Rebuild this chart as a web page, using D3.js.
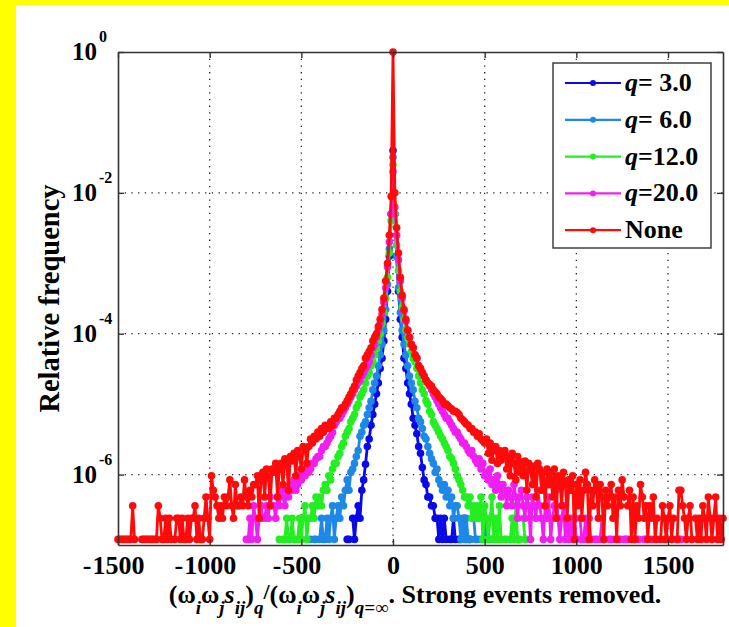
<!DOCTYPE html>
<html><head><meta charset="utf-8">
<script src="https://cdn.jsdelivr.net/npm/d3@7"></script>
<style>
body{margin:0;background:#fff;overflow:hidden}
svg{display:block}
text{font-family:"Liberation Serif","Times New Roman",serif;font-weight:bold;fill:#000}
</style>
</head><body>
<svg id="chart" width="729" height="627"></svg>
<script>
// ---------------- data ----------------
const binWidth = 10;
const xTicks = [-1500, -1000, -500, 0, 500, 1000, 1500];
const yTickExponents = [0, -2, -4, -6];
const legendLabels = ["q= 3.0", "q= 6.0", "q=12.0", "q=20.0", "None"];
const seriesColors = ["#0a0ae8", "#1e88e6", "#22ee22", "#f01ef0", "#ff0a0a"];

const q3Start = -250;
const q3Values = [1.2e-7,1.2e-7,null,2.4e-7,1.2e-7,2.4e-7,3.6e-7,2.4e-7,6e-7,8.4e-7,
 1.4e-6,2.5e-6,3.2e-6,5e-6,7.1e-6,1e-5,1.4e-5,2e-5,3.2e-5,4.5e-5,
 7.9e-5,1.6e-4,4e-4,1.26e-3,5e-3,4e-2,5e-3,1.26e-3,4e-4,1.6e-4,
 8.9e-5,4.5e-5,3.2e-5,2e-5,1.4e-5,1e-5,6.3e-6,5e-6,3.8e-6,2.5e-6,
 2e-6,1.26e-6,8.4e-7,7.2e-7,4.8e-7,4.8e-7,3.6e-7,3.6e-7,2.4e-7,2.4e-7,
 1.2e-7,2.4e-7,1.2e-7,2.4e-7,1.2e-7,null,1.2e-7,1.2e-7,2.4e-7,1.2e-7,
 null,1.2e-7,1.2e-7,null,2.4e-7,1.2e-7,null,1.2e-7];

const q6Start = -450;
const q6Values = [1.2e-7,null,1.2e-7,1.2e-7,null,1.2e-7,2.4e-7,1.2e-7,1.2e-7,2.4e-7,
 1.2e-7,2.4e-7,3.6e-7,1.2e-7,2.4e-7,3.6e-7,2.4e-7,4.8e-7,3.6e-7,6e-7,
 8.4e-7,6e-7,1.08e-6,1.2e-6,1.44e-6,1.8e-6,2.2e-6,3.5e-6,4e-6,5e-6,
 5.6e-6,7.1e-6,8.9e-6,1.1e-5,1.6e-5,2e-5,2.5e-5,3.5e-5,5e-5,7.1e-5,
 1.12e-4,2.2e-4,5e-4,1.6e-3,5e-3,3.2e-2,5e-3,1.26e-3,4.5e-4,2e-4,
 1.12e-4,7.1e-5,5e-5,3.5e-5,2.5e-5,2e-5,1.6e-5,1.1e-5,8.9e-6,6.3e-6,
 5.6e-6,4.5e-6,3.5e-6,3.2e-6,2.5e-6,2e-6,1.68e-6,1.44e-6,1.08e-6,1.2e-6,
 8.4e-7,7.2e-7,6e-7,7.2e-7,4.8e-7,6e-7,3.6e-7,4.8e-7,2.4e-7,3.6e-7,
 3.6e-7,2.4e-7,1.2e-7,2.4e-7,1.2e-7,2.4e-7,1.2e-7,1.2e-7,null,2.4e-7,
 1.2e-7,1.2e-7,null,1.2e-7,1.2e-7,2.4e-7,1.2e-7,null,1.2e-7,1.2e-7];

const q12Start = -620;
const q12Values = [1.2e-7,null,1.2e-7,1.2e-7,2.4e-7,1.2e-7,1.2e-7,2.4e-7,1.2e-7,null,
 1.2e-7,2.4e-7,1.2e-7,2.4e-7,3.6e-7,1.2e-7,2.4e-7,2.4e-7,3.6e-7,2.4e-7,
 4.8e-7,3.6e-7,4.8e-7,3.6e-7,6e-7,7.2e-7,6e-7,9.6e-7,8.4e-7,1.2e-6,
 1.44e-6,1.44e-6,1.8e-6,2e-6,2.5e-6,2.8e-6,3.5e-6,4e-6,4.5e-6,5.6e-6,
 6.3e-6,7.1e-6,8.9e-6,1e-5,1.26e-5,1.4e-5,1.6e-5,2e-5,2.5e-5,2.8e-5,
 3.5e-5,4e-5,5e-5,6.3e-5,7.9e-5,1e-4,1.4e-4,2e-4,3.2e-4,6.3e-4,
 1.4e-3,4e-3,2.5e-2,5e-3,1.8e-3,7.9e-4,4e-4,2.4e-4,1.6e-4,1.12e-4,
 8.9e-5,7.1e-5,5.6e-5,4.5e-5,4e-5,3.2e-5,2.5e-5,2e-5,1.6e-5,1.4e-5,
 1.12e-5,1e-5,7.9e-6,7.1e-6,5.6e-6,5e-6,4.5e-6,4e-6,3.5e-6,3.2e-6,
 2.8e-6,2.5e-6,2.2e-6,1.8e-6,1.68e-6,1.44e-6,1.2e-6,9.6e-7,8.4e-7,7.2e-7,
 6e-7,4.8e-7,4.8e-7,3.6e-7,4.8e-7,2.4e-7,3.6e-7,2.4e-7,3.6e-7,2.4e-7,
 4.8e-7,1.2e-7,3.6e-7,2.4e-7,1.2e-7,2.4e-7,4.8e-7,1.2e-7,2.4e-7,1.2e-7,
 3.6e-7,1.2e-7,null,1.2e-7,1.2e-7,null,1.2e-7,2.4e-7,1.2e-7,3.6e-7,
 1.2e-7,1.2e-7,null,2.4e-7,1.2e-7,1.2e-7];

const q20Start = -800;
const q20Values = [1.2e-7,1.2e-7,2.4e-7,1.2e-7,3.6e-7,2.4e-7,1.2e-7,2.4e-7,3.6e-7,2.4e-7,
 2.4e-7,3.6e-7,2.4e-7,4.8e-7,3.6e-7,3.6e-7,2.4e-7,4.8e-7,3.6e-7,6e-7,
 4.8e-7,3.6e-7,6e-7,4.8e-7,7.2e-7,6e-7,8.4e-7,6e-7,7.2e-7,9.6e-7,
 8.4e-7,1.08e-6,9.6e-7,1.2e-6,1.08e-6,1.2e-6,1.44e-6,1.44e-6,1.68e-6,1.8e-6,
 1.8e-6,2.2e-6,2.5e-6,2.5e-6,2.8e-6,3.2e-6,3.5e-6,4e-6,5e-6,5.6e-6,
 6.3e-6,6.3e-6,7.1e-6,7.9e-6,8.9e-6,1e-5,1.12e-5,1.26e-5,1.4e-5,1.6e-5,
 1.8e-5,2e-5,2.2e-5,2.5e-5,2.8e-5,3.2e-5,3.5e-5,4e-5,5e-5,6.3e-5,
 7.1e-5,8.9e-5,1.12e-4,1.4e-4,1.9e-4,2.8e-4,4.5e-4,8.9e-4,2e-3,5e-3,
 2e-2,6.3e-3,2.5e-3,1.12e-3,5.6e-4,3.2e-4,2.1e-4,1.5e-4,1.12e-4,8.9e-5,
 7.1e-5,6.3e-5,5e-5,4.5e-5,3.5e-5,3.2e-5,2.8e-5,2.5e-5,2.2e-5,2e-5,
 1.8e-5,1.6e-5,1.4e-5,1.26e-5,1.12e-5,1e-5,8.9e-6,7.9e-6,7.1e-6,6.3e-6,
 6.3e-6,5.6e-6,5e-6,4.5e-6,4e-6,4e-6,3.5e-6,3.2e-6,2.8e-6,2.8e-6,
 2.5e-6,2.2e-6,2e-6,2.2e-6,1.8e-6,1.6e-6,1.44e-6,1.68e-6,1.2e-6,1.44e-6,
 9.6e-7,1.08e-6,8.4e-7,1.2e-6,7.2e-7,8.4e-7,6e-7,9.6e-7,7.2e-7,4.8e-7,
 7.2e-7,6e-7,3.6e-7,6e-7,4.8e-7,3.6e-7,7.2e-7,4.8e-7,2.4e-7,4.8e-7,
 6e-7,3.6e-7,2.4e-7,4.8e-7,3.6e-7,1.2e-7,4.8e-7,3.6e-7,2.4e-7,6e-7,
 3.6e-7,2.4e-7,1.2e-7,3.6e-7,2.4e-7,4.8e-7,1.2e-7,2.4e-7,3.6e-7,6e-7,
 2.4e-7,1.2e-7,2.4e-7,3.6e-7,1.2e-7,2.4e-7,1.2e-7,2.4e-7,1.2e-7,2.4e-7,
 1.2e-7,null,2.4e-7,1.2e-7,1.2e-7,2.4e-7,1.2e-7,2.4e-7,1.2e-7,null,
 1.2e-7,1.2e-7,null,1.2e-7,2.4e-7,1.2e-7,null,null,1.2e-7,1.2e-7,
 null,1.2e-7,null,1.2e-7,1.2e-7,null,1.2e-7,1.2e-7,1.2e-7,null,
 null,1.2e-7,1.2e-7,null,1.2e-7,null,null,1.2e-7,1.2e-7,null,
 null,1.2e-7,null,null,1.2e-7,null,null,null,1.2e-7,null,
 null,null,1.2e-7,null,null,1.2e-7,1.2e-7,1.2e-7];

const noneStart = -1500;
const noneValues = [
 1.2e-7,1.2e-7,1.2e-7,1.2e-7,1.2e-7,1.2e-7,1.2e-7,1.2e-7,3.6e-7,1.2e-7,
 null,null,null,1.2e-7,1.2e-7,1.2e-7,1.2e-7,1.2e-7,1.2e-7,1.2e-7,
 1.2e-7,1.2e-7,3.6e-7,2.4e-7,1.2e-7,1.2e-7,2.4e-7,1.2e-7,2.4e-7,1.2e-7,
 null,1.2e-7,2.4e-7,2.4e-7,1.2e-7,2.4e-7,1.2e-7,1.2e-7,2.4e-7,1.2e-7,
 2.4e-7,2.4e-7,3.6e-7,1.2e-7,2.4e-7,1.2e-7,1.2e-7,2.4e-7,4.8e-7,2.4e-7,
 1.2e-7,9.6e-7,6e-7,4.8e-7,3.6e-7,2.4e-7,3.6e-7,2.4e-7,4.8e-7,3.6e-7,
 4.8e-7,8.4e-7,3.6e-7,2.4e-7,7.2e-7,3.6e-7,3.6e-7,4.8e-7,3.6e-7,8.4e-7,
 4.8e-7,3.6e-7,6e-7,4.8e-7,7.2e-7,
 7.2e-7,9.6e-7,2.4e-7,8.4e-7,1.08e-6,4.8e-7,1.2e-6,9.6e-7,3.6e-7,1.2e-6,
 1.08e-6,1.44e-6,4.8e-7,1.2e-6,1.44e-6,7.2e-7,1.68e-6,1.44e-6,6e-7,1.8e-6,
 1.56e-6,2e-6,9.6e-7,2.2e-6,1.8e-6,1.2e-6,2.5e-6,2.2e-6,1.44e-6,2.5e-6,
 3.2e-6,2.8e-6,3.5e-6,3.2e-6,4e-6,3.5e-6,4.5e-6,4e-6,5e-6,4.5e-6,
 4.5e-6,5.6e-6,5e-6,6.3e-6,6.3e-6,7.1e-6,7.9e-6,8.9e-6,8.9e-6,1e-5,
 1.12e-5,1.26e-5,1.4e-5,1.6e-5,1.8e-5,2.2e-5,2.5e-5,2.8e-5,3.2e-5,3.5e-5,
 4.5e-5,5e-5,5.6e-5,6.3e-5,7.9e-5,8.9e-5,1e-4,1.26e-4,1.6e-4,2.2e-4,
 3.2e-4,5.6e-4,1e-3,2.5e-3,8.9e-3,
 1,
 1e-2,3.2e-3,1.4e-3,6.3e-4,3.5e-4,2.2e-4,1.6e-4,1.12e-4,8.9e-5,7.1e-5,
 6.3e-5,5e-5,4.5e-5,3.5e-5,3.2e-5,2.8e-5,2.5e-5,2.2e-5,2e-5,1.9e-5,
 1.8e-5,1.6e-5,1.5e-5,1.4e-5,1.26e-5,1.2e-5,1.12e-5,1e-5,1e-5,9.5e-6,
 8.9e-6,8.5e-6,7.9e-6,7.9e-6,7.6e-6,7.1e-6,6.3e-6,6e-6,5.6e-6,5.2e-6,
 5e-6,4.5e-6,4.5e-6,4e-6,4e-6,3.5e-6,3.8e-6,3.2e-6,3e-6,2.8e-6,
 3.2e-6,2e-6,2.8e-6,1.6e-6,2.2e-6,2.5e-6,1.44e-6,2.2e-6,1.6e-6,1.9e-6,
 2.2e-6,1.2e-6,1.8e-6,9.6e-7,2e-6,1.44e-6,8.4e-7,1.8e-6,1.08e-6,1.5e-6,
 9.6e-7,1.56e-6,6e-7,1.44e-6,1.2e-6,7.2e-7,1.32e-6,4.8e-7,1.44e-6,1.2e-6,
 6e-7,1.08e-6,3.6e-7,1.2e-6,7.2e-7,1.08e-6,4.8e-7,1.2e-6,2.4e-7,9.6e-7,
 8.4e-7,3.6e-7,1.08e-6,7.2e-7,2.4e-7,8.4e-7,6e-7,9.6e-7,1.2e-7,7.2e-7,
 3.6e-7,8.4e-7,2.4e-7,6e-7,1.08e-6,7.2e-7,1.2e-7,6e-7,3.6e-7,8.4e-7,
 6e-7,2.4e-7,7.2e-7,4.8e-7,1.2e-7,6e-7,3.6e-7,4.8e-7,7.2e-7,2.4e-7,
 4.8e-7,1.2e-7,6e-7,3.6e-7,8.4e-7,4.8e-7,null,3.6e-7,6e-7,1.2e-7,
 4.8e-7,1.2e-7,3.6e-7,2.4e-7,7.2e-7,4.8e-7,2.4e-7,3.6e-7,1.2e-7,3.6e-7,
 2.4e-7,4.8e-7,1.2e-7,2.4e-7,null,1.2e-7,3.6e-7,2.4e-7,1.2e-7,2.4e-7,
 3.6e-7,1.2e-7,2.4e-7,null,1.2e-7,6e-7,6e-7,3.6e-7,2.4e-7,1.2e-7,
 2.4e-7,3.6e-7,1.2e-7,null,2.4e-7,1.2e-7,2.4e-7,1.2e-7,3.6e-7,2.4e-7,
 1.2e-7,4.8e-7,2.4e-7,1.2e-7,2.4e-7,4.8e-7,1.2e-7,2.4e-7,1.2e-7,2.4e-7];

const seriesStarts = [q3Start, q6Start, q12Start, q20Start, noneStart];
const seriesValues = [q3Values, q6Values, q12Values, q20Values, noneValues];

// ---------------- drawing ----------------
const W = 729, H = 627;
const plot = {left: 118, top: 52, right: 723, bottom: 545};
const axisColor = "#333";
const markerR = 3.8, lineW = 2.8;
const svg = d3.select("#chart");

svg.append("rect").attr("width", W).attr("height", H).attr("fill", "#fff");
svg.append("rect").attr("x", 0).attr("y", 0).attr("width", 16).attr("height", H).attr("fill", "#ffff00");
svg.append("rect").attr("x", 0).attr("y", 0).attr("width", W).attr("height", 5).attr("fill", "#ffff00");

const x = d3.scaleLinear().domain([-1500, 1800]).range([plot.left, plot.right]);
const y = d3.scaleLog().domain([1e-7, 1]).range([plot.bottom, plot.top]);
const yTickValues = yTickExponents.map(e => Math.pow(10, e));

// grid (dotted)
const grid = svg.append("g");
grid.selectAll("line.gx").data(xTicks.filter(t => x(t) > plot.left + 1)).enter().append("line")
  .attr("x1", d => x(d)).attr("x2", d => x(d)).attr("y1", plot.top).attr("y2", plot.bottom)
  .attr("stroke", "#222").attr("stroke-width", 1.3).attr("stroke-dasharray", "1.3,5.4");
grid.selectAll("line.gy").data(yTickValues.filter(v => y(v) > plot.top + 1)).enter().append("line")
  .attr("x1", plot.left).attr("x2", plot.right).attr("y1", d => y(d)).attr("y2", d => y(d))
  .attr("stroke", "#222").attr("stroke-width", 1.3).attr("stroke-dasharray", "1.3,5.4");

// series
const lineGen = d3.line().defined(d => d.v != null).x(d => x(d.x)).y(d => y(d.v));
seriesValues.forEach((vals, si) => {
  const pts = vals.map((v, i) => ({x: seriesStarts[si] + i * binWidth, v}));
  const g = svg.append("g");
  g.append("path").datum(pts).attr("d", lineGen).attr("fill", "none")
    .attr("stroke", seriesColors[si]).attr("stroke-width", lineW).attr("stroke-linejoin", "round");
  g.selectAll("circle").data(pts.filter(d => d.v != null)).enter().append("circle")
    .attr("cx", d => x(d.x)).attr("cy", d => y(d.v)).attr("r", markerR).attr("fill", seriesColors[si]);
});

// axes
function styleAxis(g) {
  g.selectAll("path.domain").attr("stroke", axisColor).attr("stroke-width", 1.6);
  g.selectAll(".tick line").attr("stroke", axisColor).attr("stroke-width", 1.4);
}
const xAxisB = svg.append("g").attr("transform", `translate(0,${plot.bottom})`)
  .call(d3.axisBottom(x).tickValues(xTicks).tickSizeInner(-6).tickSizeOuter(0).tickPadding(10.5)
    .tickFormat(d => String(Math.abs(d))));
styleAxis(xAxisB);
xAxisB.selectAll(".tick text").attr("font-size", 26).attr("font-family", '"Liberation Serif",serif')
  .attr("font-weight", "bold").attr("fill", "#000").attr("dy", "0.71em");
xAxisB.selectAll(".tick").each(function(d) {
  if (d < 0) {
    const t = d3.select(this).select("text");
    const w = t.node().getComputedTextLength();
    d3.select(this).append("text").text("-")
      .attr("x", -w / 2 - 1).attr("y", +t.attr("y")).attr("dy", "0.71em")
      .attr("text-anchor", "end").attr("font-size", 26).attr("font-family", '"Liberation Serif",serif')
      .attr("font-weight", "bold").attr("fill", "#000");
  }
});
const xAxisT = svg.append("g").attr("transform", `translate(0,${plot.top})`)
  .call(d3.axisTop(x).tickValues(xTicks).tickSizeInner(-6).tickSizeOuter(0).tickFormat(""));
styleAxis(xAxisT);
const yAxisL = svg.append("g").attr("transform", `translate(${plot.left},0)`)
  .call(d3.axisLeft(y).tickValues(yTickValues).tickSizeInner(-6).tickSizeOuter(0).tickFormat(""));
styleAxis(yAxisL);
const yAxisR = svg.append("g").attr("transform", `translate(${plot.right},0)`)
  .call(d3.axisRight(y).tickValues(yTickValues).tickSizeInner(-6).tickSizeOuter(0).tickFormat(""));
styleAxis(yAxisR);

// y tick labels 10^e
yTickExponents.forEach(e => {
  const yy = y(Math.pow(10, e));
  svg.append("text").attr("x", 97).attr("y", yy + 8).attr("text-anchor", "end")
    .attr("font-size", 25).text("10");
  svg.append("text").attr("x", 99).attr("y", yy - 10).attr("text-anchor", "start")
    .attr("font-size", 16).text(String(e));
});

// y title
svg.append("text").attr("transform", `translate(59,${(plot.top + plot.bottom) / 2}) rotate(-90)`)
  .attr("text-anchor", "middle").attr("font-size", 28.5).text("Relative frequency");

// x title
const xt = svg.append("text").attr("x", 415).attr("y", 603).attr("text-anchor", "middle").attr("font-size", 26);
function part(txt, opts = {}) {
  const t = xt.append("tspan").text(txt);
  if (opts.italic) t.attr("font-style", "italic");
  if (opts.size) t.attr("font-size", opts.size);
  if (opts.dy) t.attr("dy", opts.dy);
  return t;
}
part("(");
part("ω", {size: 25});
part("i", {italic: true, size: 19, dy: 11});
part("ω", {size: 25, dy: -11});
part("j", {italic: true, size: 19, dy: 11});
part("s", {italic: true, dy: -11});
part("ij", {italic: true, size: 19, dy: 11});
part(")", {dy: -11});
part("q", {italic: true, size: 19, dy: 11});
part("/", {size: 22, dy: -15});
part("(", {dy: 4});
part("ω", {size: 25});
part("i", {italic: true, size: 19, dy: 11});
part("ω", {size: 25, dy: -11});
part("j", {italic: true, size: 19, dy: 11});
part("s", {italic: true, dy: -11});
part("ij", {italic: true, size: 19, dy: 11});
part(")", {dy: -11});
part("q=∞", {italic: true, size: 19, dy: 11});
part(". Strong events removed.", {dy: -11});

// legend
const lg = svg.append("g");
lg.append("rect").attr("x", 553).attr("y", 63).attr("width", 158).attr("height", 185)
  .attr("fill", "#fff").attr("stroke", axisColor).attr("stroke-width", 1.4);
legendLabels.forEach((lab, i) => {
  const cy = 83 + i * 36.8;
  lg.append("line").attr("x1", 565).attr("x2", 621).attr("y1", cy).attr("y2", cy)
    .attr("stroke", seriesColors[i]).attr("stroke-width", 2.2);
  lg.append("circle").attr("cx", 593).attr("cy", cy).attr("r", 3).attr("fill", seriesColors[i]);
  const t = lg.append("text").attr("x", 625).attr("y", cy + 8).attr("font-size", 26)
    .style("white-space", "pre");
  if (lab.startsWith("q")) {
    t.append("tspan").attr("font-style", "italic").text("q");
    t.append("tspan").text(lab.slice(1));
  } else {
    t.text(lab);
  }
});
</script>
</body></html>
